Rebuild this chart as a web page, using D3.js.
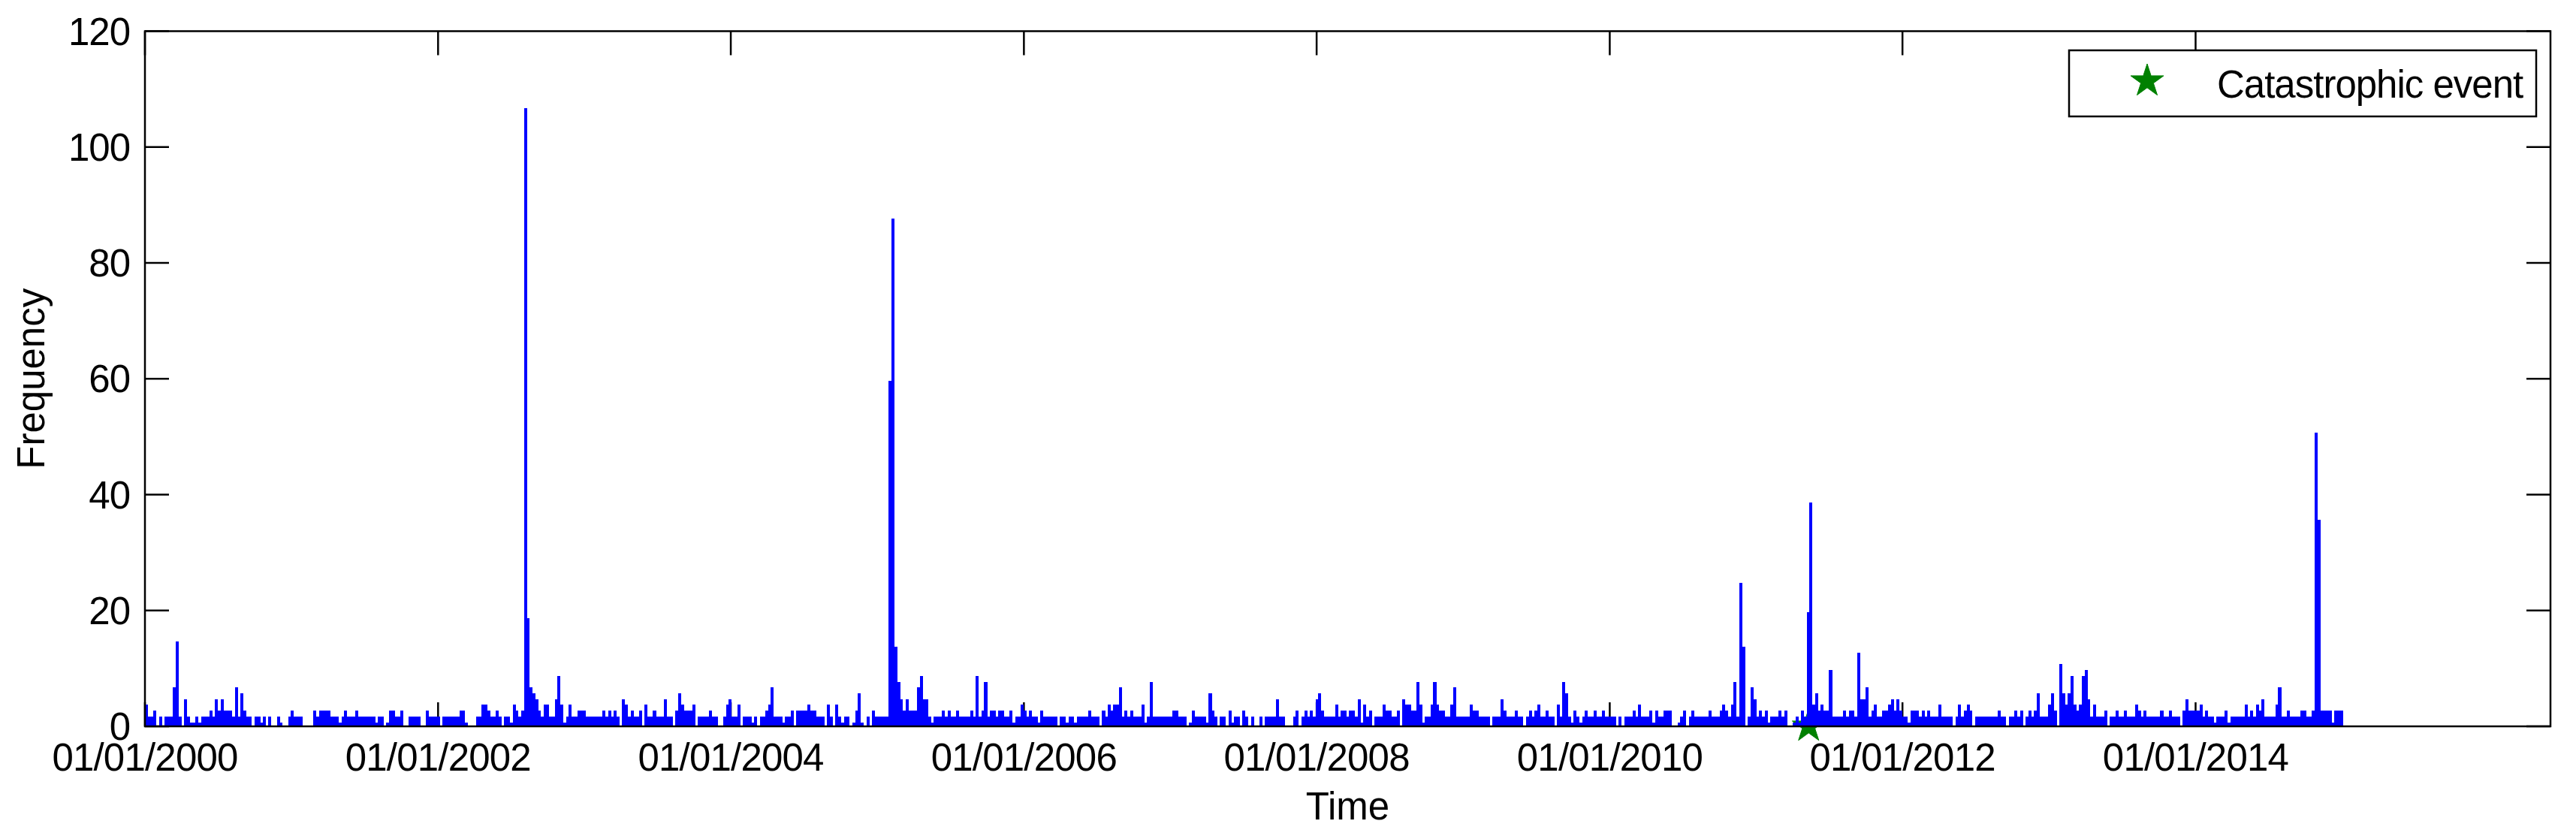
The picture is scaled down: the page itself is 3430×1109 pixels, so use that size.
<!DOCTYPE html>
<html>
<head>
<meta charset="utf-8">
<script src="https://cdn.jsdelivr.net/npm/d3@7"></script>
<style>
html,body{margin:0;padding:0;background:#fff;}
svg{display:block;}
text{font-family:"Liberation Sans",Arial,Helvetica,sans-serif;fill:#000;}
</style>
</head>
<body>
<svg id="chart" width="3430" height="1109"></svg>
<script>
// ---------------- DATA ----------------
// Weekly event counts, first bin starting 01/01/2000 (one value per week)
const freqA = [ // weeks 0-195 (2000 - mid 2003)
4,2,2,3,0,2,0,2,2,2,7,15,2,0,5,
2,1,1,2,1, 2,2,2,3,2, 5,3,5,3,3, 3,2,7,2,6, 3,2,2,0,2,
2,1,2,0,2, 0,0,2,1,0, 0,2,3,2,2, 2,0,0,0,0, 3,2,3,3,3,
3,2,2,2,1, 2,3,2,2,2, 3,2,2,2,2, 2,2,1,2,2, 0,1,3,3,2,
2,3,0,0,2, 2,2,2,0,0, 3,2,2,2,2, 0,2,2,2,2, 2,2,3,3,1,
0,0,0,2,2, 4,4,3,2,2, 3,2,0,2,2, 1,4,3,2,3, 107,19,7,6,5,
3,2,4,4,2, 2,5,9,4,1, 2,4,2,2,3, 3,3,2,2,2, 2,2,2,3,2,
3,2,3,2,0, 5,4,2,3,2, 2,3,0,4,2, 2,3,2,2,2, 5,2,2,0,3,
6,4,3,3,3,4
];
const freqB = [ // weeks 196-388 (mid 2003 - 2007)
0,2,2,2,2,3,2,2,0,0,
2,4,5,2,2,4,0,2,2,2,
1,2,0,2,2,3,4,7,2,2,
2,1,2,2,3,0,3,3,3,3,
4,3,3,2,2,2,0,4,2,0,
4,2,1,2,2,0,1,3,6,1,
0,2,0,3,2,2,2,2,2,60,
88,14,8,5,3,5,3,3,3,7,
9,5,5,2,1,2,2,2,3,2,
3,2,2,3,2,2,2,2,3,2,
9,2,3,8,2,3,3,2,3,3,
2,2,3,1,2,2,4,3,2,3,
2,2,1,3,2,2,2,2,2,0,
2,2,1,2,2,1,2,2,2,2,
3,2,2,2,0,3,2,4,3,4,
4,7,2,3,2,3,2,2,2,4,
1,2,8,2,2,2,2,2,2,2,
3,3,2,2,2,0,1,3,2,2,
2,2,1,6,3,2,0,2,2,0,
3,1,2
];
const freqC = [ // weeks 389-586 (2007 - 2011)
2,0,3,2,0,2,0,0,2,0,
2,2,2,2,5,2,2,0,0,0,
2,3,0,2,3,2,3,2,5,6,
3,2,2,2,2,4,2,3,3,2,
3,3,2,5,1,4,2,3,0,2,
2,2,4,3,3,2,2,3,0,5,
4,4,3,3,8,4,1,2,2,4,
8,4,3,3,2,2,4,7,2,2,
2,2,2,4,3,3,2,2,2,2,
0,2,2,2,5,3,2,2,2,3,
2,2,0,2,3,2,3,4,2,2,
3,2,2,0,4,2,8,6,2,1,
3,2,1,2,3,2,2,3,2,2,
3,2,2,2,2,0,2,0,2,2,
2,3,2,4,2,2,2,3,1,3,
2,2,3,3,3,0,0,1,2,3,
0,2,3,2,2,2,2,2,3,2,
2,2,3,4,3,2,4,8,2,25,
14,0,2,7,5,2,3,2,3,1,
2,2,2,3,2,3,0,0
];
const freqD = [ // weeks 587-782 (2011 - end 2014)
1,2,1,3,2,20,39,4,6,3,
4,3,3,10,2,2,2,2,3,2,
3,3,2,13,5,5,7,2,3,4,
2,2,3,3,4,5,3,5,3,2,
2,1,3,3,3,2,3,2,3,2,
2,2,4,2,2,2,2,0,2,4,
2,3,4,3,0,2,2,2,2,2,
2,2,2,3,2,2,0,2,2,3,
2,3,0,2,3,2,3,6,2,2,
2,4,6,3,0,11,6,4,6,9,
4,3,4,9,10,5,2,4,2,2,
2,3,0,2,2,3,2,2,3,2,
2,2,4,3,2,3,2,2,2,2,
2,3,2,2,3,2,2,2,0,3,
5,3,3,3,3,4,2,3,2,2,
1,2,2,2,3,1,2,2,2,2,
2,4,2,3,2,4,3,5,2,2,
2,2,4,7,2,2,3,2,2,2,
2,3,3,2,2,3,51,36,3,3,
3,3,1,3,3,3
];
const firstBinDate = "2000-01-01";
const binDays = 7;
const xDomain = ["2000-01-01", "2016-06-04"];
const xTickDates = ["2000-01-01","2002-01-01","2004-01-01","2006-01-01",
                    "2008-01-01","2010-01-01","2012-01-01","2014-01-01"];
const yTicks = [0,20,40,60,80,100,120];
const eventDates = ["2011-05-12"];
const eventValues = [0];
const legendLabel = "Catastrophic event";
const xLabel = "Time";
const yLabel = "Frequency";

// ---------------- DRAW ----------------
const parse = d3.utcParse("%Y-%m-%d");
const fmt = d3.utcFormat("%d/%m/%Y");
const freq = [].concat(freqA, freqB, freqC, freqD);
const start = parse(firstBinDate);
const bins = freq.map((v, i) => ({
  x0: d3.utcDay.offset(start, i * binDays),
  x1: d3.utcDay.offset(start, (i + 1) * binDays),
  v: v
}));

const L = 193, R = 3396, T = 41.5, B = 967;
const x = d3.scaleUtc().domain(xDomain.map(parse)).range([L, R]);
const y = d3.scaleLinear().domain([0, 120]).range([B, T]);
const tickLen = 32;
const lw = 2.5;
const barInset = 2.3; // MATLAB bar edge rendering offset

const svg = d3.select("#chart");
svg.append("rect").attr("width", 3430).attr("height", 1109).attr("fill", "#fff");

const xt = xTickDates.map(parse);

// ticks (drawn under the bars)
const gT = svg.append("g").attr("stroke", "#000").attr("stroke-width", lw);
xt.forEach(d => {
  gT.append("line").attr("x1", x(d)).attr("x2", x(d)).attr("y1", B).attr("y2", B - tickLen);
  gT.append("line").attr("x1", x(d)).attr("x2", x(d)).attr("y1", T).attr("y2", T + tickLen);
});
yTicks.forEach(v => {
  gT.append("line").attr("x1", L).attr("x2", L + tickLen).attr("y1", y(v)).attr("y2", y(v));
  gT.append("line").attr("x1", R).attr("x2", R - tickLen).attr("y1", y(v)).attr("y2", y(v));
});

// event star marker
const starSym = d3.symbol().type(d3.symbolStar).size(594);
svg.append("g").selectAll("path").data(eventDates.map((d, i) => ({d: parse(d), v: eventValues[i]})))
  .join("path")
  .attr("d", starSym)
  .attr("transform", d => `translate(${x(d.d)},${y(d.v)})`)
  .attr("fill", "#008000").attr("stroke", "#008000").attr("stroke-width", 1);

// bars
svg.append("g").attr("shape-rendering", "crispEdges").selectAll("rect")
  .data(bins.filter(b => b.v > 0))
  .join("rect")
  .attr("x", d => x(d.x0))
  .attr("width", d => x(d.x1) - x(d.x0) + 0.3)
  .attr("y", d => y(d.v) + barInset)
  .attr("height", d => y(0) - y(d.v) - barInset)
  .attr("fill", "#0000ff");

// axis box
svg.append("rect").attr("x", L).attr("y", T).attr("width", R - L).attr("height", B - T)
  .attr("fill", "none").attr("stroke", "#000").attr("stroke-width", lw);

// tick labels
const fs = 51;
svg.append("g").selectAll("text").data(yTicks).join("text")
  .attr("x", 173).attr("y", v => y(v) + 18)
  .attr("text-anchor", "end").attr("font-size", fs).attr("letter-spacing", -1)
  .text(v => v);
svg.append("g").selectAll("text").data(xt).join("text")
  .attr("x", d => x(d)).attr("y", 1026)
  .attr("text-anchor", "middle").attr("font-size", fs).attr("letter-spacing", -0.8)
  .text(d => fmt(d));

// axis labels
svg.append("text").attr("x", (L + R) / 2).attr("y", 1091)
  .attr("text-anchor", "middle").attr("font-size", fs).text(xLabel);
svg.append("text").attr("transform", `translate(59,${(T + B) / 2}) rotate(-90)`)
  .attr("text-anchor", "middle").attr("font-size", fs).text(yLabel);

// legend
const lg = svg.append("g");
lg.append("rect").attr("x", 2755).attr("y", 67).attr("width", 622).attr("height", 88)
  .attr("fill", "#fff").attr("stroke", "#000").attr("stroke-width", lw);
lg.append("path").attr("d", starSym).attr("transform", "translate(2859,108)")
  .attr("fill", "#008000").attr("stroke", "#008000").attr("stroke-width", 1);
lg.append("text").attr("x", 2952).attr("y", 130).attr("font-size", fs)
  .attr("letter-spacing", -1).text(legendLabel);
</script>
</body>
</html>
